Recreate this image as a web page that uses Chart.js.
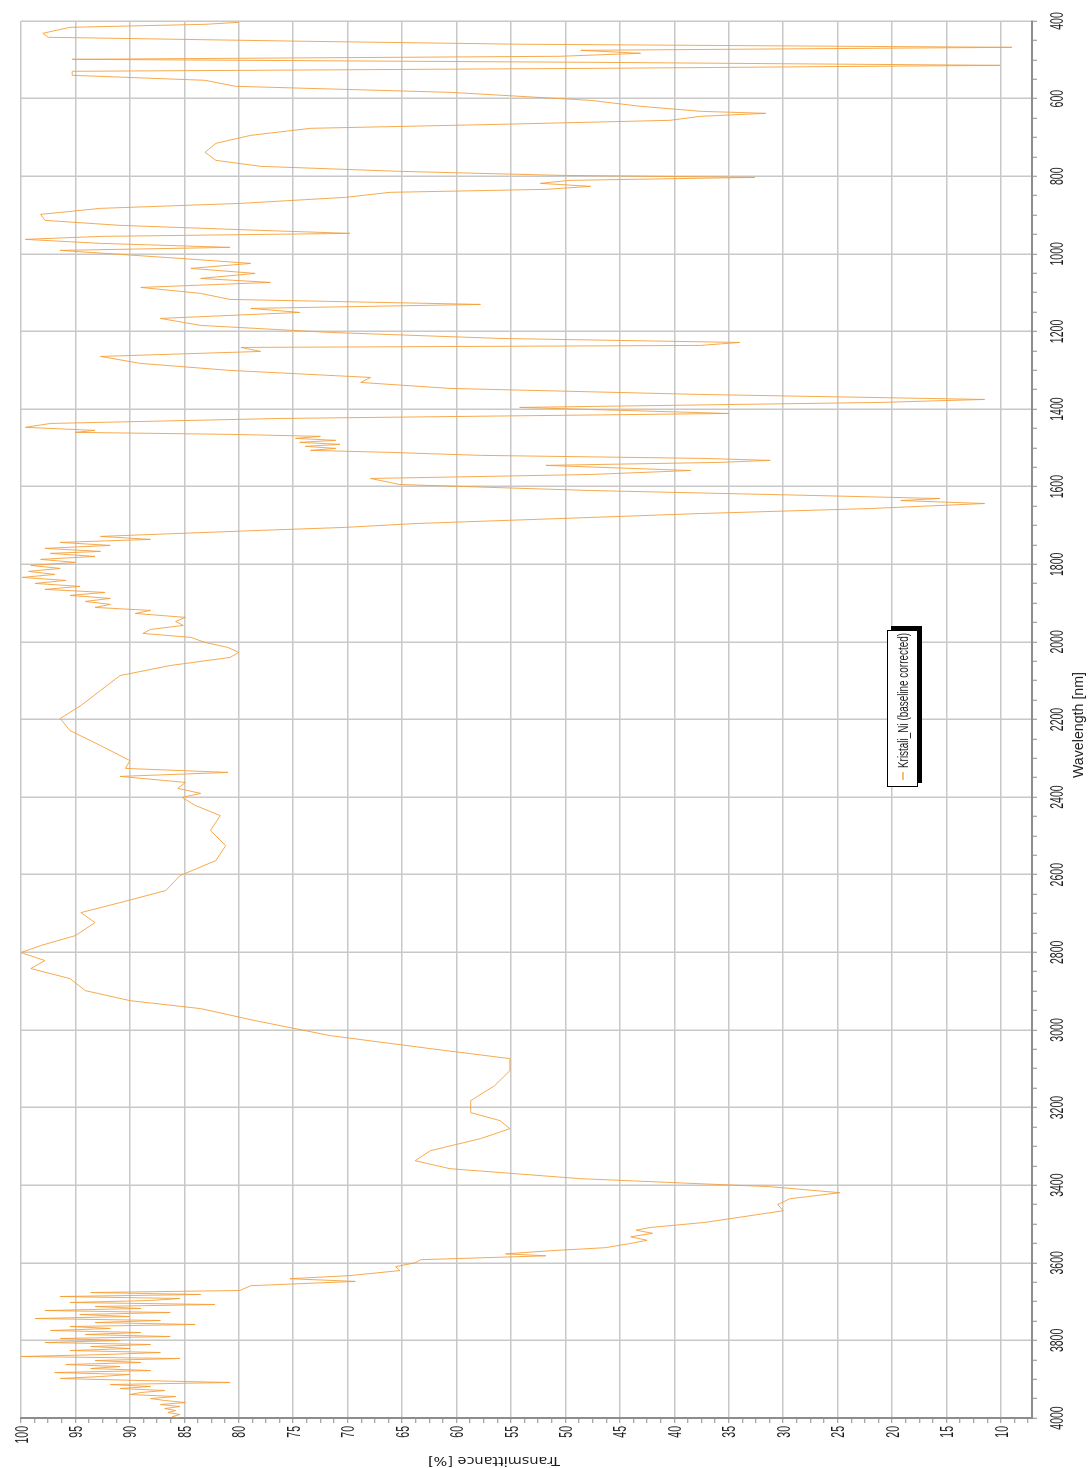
<!DOCTYPE html>
<html><head><meta charset="utf-8">
<script src="https://cdn.jsdelivr.net/npm/chart.js@4.4.1/dist/chart.umd.min.js"></script>
<style>
html,body{margin:0;padding:0;background:#fff;width:1091px;height:1468px;overflow:hidden;}
#wrap{position:absolute;left:0;top:0;width:1468px;height:1091px;transform-origin:0 0;transform:translate(0px,1468px) rotate(-90deg);background:#fff;}
canvas{display:block;}
</style></head><body>
<div id="wrap"><canvas id="c" width="1468" height="1091"></canvas></div>
<script>
// ---- data (wavelength in nm, transmittance in %) ----
const wavelengths = [
403.4,408.5,416.2,431.7,441.9,452,459.8,467.8,475.5,483.2,490.9,498.7,506.4,514.2,521.9,529.6,539.9,552.8,568.3,583.8,
604.4,619.8,632.7,637.9,645.6,655.9,666.2,676.5,694.6,715.2,738.4,759,774.5,787.4,797.7,802.9,810.6,818.3,826.1,833.8,
841.5,854.4,869.9,882.8,898.2,913.7,926.6,939.5,947.2,955,962.7,973,983.3,991.1,1001.4,1011.7,1024.6,1037.5,1050.4,1063.3,
1073.6,1086.5,1101.9,1117.4,1130.3,1140.6,1150.9,1166.4,1184.4,1202.5,1218,1228.3,1236,1241.2,1251.5,1264.4,1282.4,1300.4,1318.5,1331.4,
1346.8,1362.3,1375.2,1382.9,1395.8,1411.3,1424.2,1437.1,
1447.1,1454.9,1460.0,1465.2,1470.3,1475.5,1480.6,1485.8,1490.9,1496.1,1501.3,1506.4,1511.6,1519.3,1527.0,1532.2,1537.4,1545.1,
1558.3,1568.6,1578.9,1594.4,1609.9,1622.8,1630.5,1635.7,1643.4,1656.3,1669.2,1682.1,1695,
1704.9,1712.6,1720.4,1728.1,1735.8,1743.6,1751.3,1759.0,1766.8,1771.9,1779.7,1787.4,1795.1,1802.9,1810.6,1818.3,1826.1,1833.8,1841.5,1849.3,
1857.0,1864.7,1872.5,1880.2,1887.9,1895.7,1903.4,1911.1,1918.9,1926.6,1936.9,1947.2,1957.5,1967.8,1978.1,1988.4,2001.3,2014.2,2027.1,2040.0,
2060.9,2086.7,2125.3,2164,2197.5,2228.5,2267.1,2305.8,2326.0,2336.3,2346.6,2362.1,2377.5,2390.4,2400.7,2421.3,2447.5,2486.2,2524.9,2563.5,2602.2,2640.8,2671.8,
2697.6,2723.3,2756.8,2782.6,2800.6,2821.2,2841.8,2867.6,2898.6,2924.4,2945,2975.9,3014.6,3048.1,3073.9,3104.8,3143.5,3182.2,3213.1,3233.7,
3254.4,3280.1,3311.1,3336.9,3357.5,3383.3,3403.9,3419.4,
3435,3450,3466,3486,3496,3509,3516,3524,3533,3542,3551,3561,3569,3577,3582,3592,3600,3610,3620,3633,3641,3648,3659,
3671.4,3676.6,3681.7,3686.9,3692.0,3697.2,3702.3,3707.5,3712.6,3717.8,3723.0,3728.1,3733.3,3738.4,3743.6,3748.7,3753.9,3759.0,3764.2,3769.3,
3774.5,3779.7,3784.8,3790.0,3795.1,3800.3,3805.4,3810.6,3815.7,3820.9,3826.1,3831.2,3836.4,3841.5,3846.7,3851.8,3857.0,3862.1,3867.3,3872.4,
3877.6,3882.8,3887.9,3893.1,3898.2,3903.4,3908.5,3913.7,3918.8,3924.0,3929.2,3934.3,3939.5,3944.6,3949.8,3954.9,3960.1,3965.2,3970.4,3975.5,
3980.7,3985.9,3991.0,3996.2,4000
];
const transmittance = [
80.0,83.1,95.5,98.0,97.5,74.4,54.1,9.0,48.6,43.1,50.5,95.3,47.7,10.1,46.8,95.3,95.3,83.1,80.3,60.6,
47.7,43.1,37.6,31.6,37.6,40.4,56.0,73.4,78.9,82.1,83.1,82.1,78.0,65.2,50.5,32.6,49.6,52.3,47.7,51.8,
66.1,70.2,79.8,92.7,98.2,97.8,90.9,78.0,69.8,92.7,99.6,92.7,80.8,96.4,90.9,85.4,78.9,84.4,78.5,83.5,
77.1,89.0,83.5,80.8,57.8,78.9,74.4,87.2,83.5,71.6,56,34.0,37.6,79.8,78.0,92.7,89.0,80.8,67.9,68.8,
60.6,37.6,11.5,21.1,54.2,35.0,76.2,97.3,
99.6,93.2,95.0,80.8,72.5,74.8,71.1,74.4,70.7,73.9,71.1,73.4,66.1,57.8,37.6,31.2,35.8,51.8,
38.5,47.7,67.9,65.2,47.7,27.1,15.6,19.2,11.5,22.0,37.6,50.5,63.8,
70.2,78.0,85.4,92.7,88.1,96.4,91.8,97.8,92.7,97.3,93.2,98.2,95.0,99.1,96.4,99.3,96.9,99.9,95.9,98.7,
94.6,97.8,92.3,95.5,91.8,94.1,91.8,93.2,88.1,89.5,84.9,85.8,85.1,88.1,88.8,84.4,83.1,81.0,80.0,80.8,
86.3,90.9,92.7,94.5,96.4,95.5,92.7,90,90.4,81.0,90.9,84.9,85.6,83.5,85.2,84.0,81.7,82.6,81.2,82.1,85.4,86.7,90.9,
94.5,93.2,95.0,98.2,100,97.8,99.1,95.5,94.1,90.0,83.5,78.5,71.6,62.4,55.1,55.1,56.5,58.7,58.7,56.0,
55.1,57.8,62.4,63.8,60.6,48.6,31.2,24.8,
29.4,30.5,30.0,34.8,37.2,42.2,43.5,42.0,44.0,42.5,44.2,46.3,51.4,55.5,51.8,63.3,63.8,65.6,65.2,69.8,75.3,69.3,78.9,
79.9,93.6,83.5,96.4,85.4,88.1,95.5,82.2,93.2,89.0,97.8,86.3,94.6,90.0,98.7,87.2,93.2,84.0,95.5,91.8,
97.3,89.0,94.1,86.3,96.4,90.9,97.8,88.1,93.6,90.0,95.5,87.2,92.3,100,85.4,93.2,89.0,95.9,90.9,93.6,
88.1,96.9,90.0,92.7,96.4,89.0,80.8,91.8,88.1,90.9,86.8,89.0,90.0,85.8,88.1,86.8,84.9,87.2,85.4,86.8,
85.8,86.5,85.4,86.1,85.5
];
const seriesLabel = 'Kristali_Ni (baseline corrected)';
const xTitle = 'Wavelength [nm]';
const yTitle = 'Transmittance [%]';
const xTickLabels = [400,600,800,1000,1200,1400,1600,1800,2000,2200,2400,2600,2800,3000,3200,3400,3600,3800,4000];
const yTickLabels = [100,95,90,85,80,75,70,65,60,55,50,45,40,35,30,25,20,15,10];
const xMinorStep = 50, yMinorStep = 1.25;
const xRange = [400, 4000], yRange = [7.15, 100];

const lineColor = 'rgba(245,158,55,0.88)';
const gridColor = '#c8c8c8';
const axisColor = '#8d8d8d';
const textColor = '#1e1e1e';

function minorValues(lo, hi, step, anchor) {
  const out = [];
  const start = Math.ceil((lo - anchor) / step - 1e-9);
  for (let k = start; anchor + k * step <= hi + 1e-9; k++) out.push(+(anchor + k * step).toFixed(4));
  return out;
}
const xMinor = minorValues(xRange[0], xRange[1], xMinorStep, 400);
const yMinor = minorValues(yRange[0], yRange[1], yMinorStep, 100);

function drawFit(ctx, text, x, y, font, width, align, rot) {
  ctx.save();
  ctx.font = font;
  const w = ctx.measureText(text).width;
  ctx.translate(x, y);
  if (rot) ctx.rotate(rot);
  ctx.scale(width / w, 1);
  ctx.textAlign = align;
  ctx.textBaseline = 'alphabetic';
  ctx.fillStyle = textColor;
  ctx.fillText(text, 0, 0);
  ctx.restore();
}

const tickFont = '18.5px "Liberation Sans", Arial, sans-serif';
const digitW = 5.85;

const textPlugin = {
  id: 'texts',
  afterDraw(chart) {
    const ctx = chart.ctx;
    const xs = chart.scales.x, ys = chart.scales.y;
    xTickLabels.forEach(v => {
      const s = String(v);
      drawFit(ctx, s, xs.getPixelForValue(v), 1062.7, tickFont, s.length * digitW, 'center');
    });
    yTickLabels.forEach(v => {
      const s = String(v);
      drawFit(ctx, s, 42, ys.getPixelForValue(v) + 6.6, tickFont, s.length * digitW, 'right');
    });
    drawFit(ctx, xTitle, 743, 1083, '14px "Liberation Sans", Arial, sans-serif', 106, 'center');
    drawFit(ctx, yTitle, 10.5, 494, '12px "DejaVu Sans", Verdana, sans-serif', 132, 'center', -Math.PI / 2);
    // legend box
    const bx = 681, by = 887, bw = 157, bh = 31;
    ctx.save();
    ctx.fillStyle = '#000';
    ctx.fillRect(bx + 4, by + 4, bw, bh);
    ctx.fillStyle = '#fff';
    ctx.fillRect(bx, by, bw, bh);
    ctx.strokeStyle = '#000';
    ctx.lineWidth = 1;
    ctx.strokeRect(bx + 0.5, by + 0.5, bw - 1, bh - 1);
    ctx.strokeStyle = lineColor;
    ctx.lineWidth = 1.5;
    ctx.beginPath(); ctx.moveTo(688, 903); ctx.lineTo(696, 903); ctx.stroke();
    ctx.restore();
    drawFit(ctx, seriesLabel, 700, 907.5, '15.5px "Liberation Sans", Arial, sans-serif', 135, 'left');
  }
};

const points = wavelengths.map((w, i) => ({x: w, y: transmittance[i]}));

new Chart(document.getElementById('c'), {
  type: 'line',
  data: { datasets: [{ label: seriesLabel, data: points, borderColor: lineColor, borderWidth: 1, pointRadius: 0, tension: 0, fill: false }] },
  options: {
    responsive: false, animation: false, devicePixelRatio: 1,
    layout: { padding: { left: 45, right: 21, top: 21, bottom: 54 } },
    plugins: { legend: { display: false }, tooltip: { enabled: false } },
    scales: {
      x: {
        type: 'linear', position: 'bottom', reverse: true, min: xRange[0], max: xRange[1],
        afterBuildTicks: s => { s.ticks = xMinor.map(v => ({ value: v })); },
        ticks: { display: false },
        grid: {
          color: c => (c.tick && Math.abs(c.tick.value % 200) < 1e-6) ? gridColor : 'rgba(0,0,0,0)',
          lineWidth: 1.5, tickColor: axisColor, tickWidth: 1, tickLength: 5
        },
        border: { display: true, color: axisColor, width: 2 }
      },
      y: {
        type: 'linear', position: 'left', min: yRange[0], max: yRange[1],
        afterBuildTicks: s => { s.ticks = yMinor.map(v => ({ value: v })); },
        ticks: { display: false },
        grid: {
          color: c => (c.tick && Math.abs(c.tick.value % 5) < 1e-6) ? gridColor : 'rgba(0,0,0,0)',
          lineWidth: 1.5, tickColor: axisColor, tickWidth: 1, tickLength: 5
        },
        border: { display: true, color: axisColor, width: 2 }
      }
    }
  },
  plugins: [textPlugin]
});
</script>
</body></html>
